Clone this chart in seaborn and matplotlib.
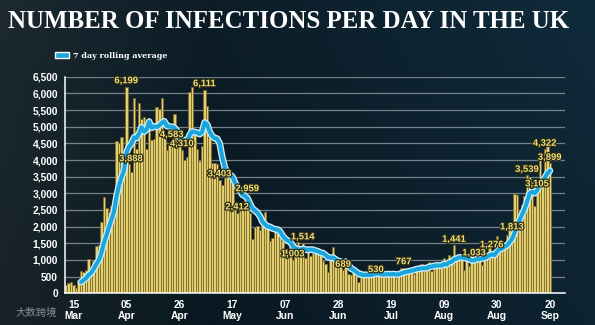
import numpy as np
import pandas as pd
import matplotlib
matplotlib.use("Agg")
import matplotlib.pyplot as plt
import matplotlib.patheffects as pe
from matplotlib.patches import Patch
import seaborn as sns

# ---------------- data ----------------
start_date = "2020-03-12"
mar_cases = [250, 300, 342, 251, 152, 407, 676, 643, 714, 1035, 665, 967, 1427, 1452,
             2129, 2885, 2546, 2433, 2619, 3009]
apr_cases = [4567, 4500, 4700, 3950, 6199, 3888, 3634, 5870, 4344, 5706, 5234, 5288, 4342,
             5252, 4605, 4618, 5599, 5525, 5850, 4676, 4301, 4451, 4583, 5386, 4913, 4463,
             4310, 3996, 4076, 6032]
may_cases = [6201, 4806, 4339, 3985, 4406, 6111, 5614, 4649, 3896, 3923, 3877, 3403, 3242,
             3446, 3560, 3451, 3534, 2684, 2412, 2472, 2615, 3287, 2959, 2405, 1625, 2004,
             2013, 1887, 2095, 2445, 1936]
jun_cases = [1570, 1653, 1871, 1805, 1650, 1557, 1326, 1205, 1387, 1003, 1266, 1541, 1425,
             1514, 1056, 1279, 1115, 1218, 1346, 1295, 1221, 958, 874, 653, 1118, 1380, 890,
             901, 815, 689]
jul_cases = [829, 576, 544, 624, 516, 352, 581, 630, 642, 512, 620, 650, 530, 538, 538, 542,
             587, 627, 626, 580, 445, 560, 769, 767, 743, 747, 685, 581, 763, 846, 880]
aug_cases = [771, 744, 938, 670, 892, 950, 871, 758, 1062, 816, 1148, 1009, 1441, 1040, 1012,
             1062, 713, 1089, 812, 1182, 1033, 1288, 1041, 853, 1184, 1048, 1522, 1276, 1108,
             1715, 1406]
sep_cases = [1295, 1508, 1735, 1940, 1813, 2988, 2948, 2460, 2659, 2919, 3539, 3497, 3330,
             2621, 3105, 3991, 3395, 4322, 4422, 3899]

tick_dates = ["2020-03-15", "2020-04-05", "2020-04-26", "2020-05-17", "2020-06-07",
              "2020-06-28", "2020-07-19", "2020-08-09", "2020-08-30", "2020-09-20"]
tick_labels = ["15\nMar", "05\nApr", "26\nApr", "17\nMay", "07\nJun",
               "28\nJun", "19\nJul", "09\nAug", "30\nAug", "20\nSep"]
y_ticks = [0, 500, 1000, 1500, 2000, 2500, 3000, 3500, 4000, 4500, 5000, 5500, 6000, 6500]

label_dates = ["2020-04-05", "2020-04-06", "2020-04-23", "2020-04-27", "2020-05-06",
               "2020-05-12", "2020-05-19", "2020-05-23", "2020-06-10", "2020-06-14",
               "2020-06-30", "2020-07-13", "2020-07-24", "2020-08-13", "2020-08-21",
               "2020-08-28", "2020-09-05", "2020-09-11", "2020-09-15", "2020-09-18",
               "2020-09-20"]

title_text = "NUMBER OF INFECTIONS PER DAY IN THE UK"
legend_text = "7 day rolling average"
watermark_text = "大数跨境"

# ---------------- frame ----------------
cases = mar_cases + apr_cases + may_cases + jun_cases + jul_cases + aug_cases + sep_cases
dates = pd.date_range(start_date, periods=len(cases), freq="D")
df = pd.DataFrame({"date": dates, "cases": cases})
df["day"] = (df["date"] - df["date"].iloc[0]).dt.days
df["avg"] = df["cases"].rolling(7).mean()

def day_of(s):
    return (pd.Timestamp(s) - df["date"].iloc[0]).days

sns.set_theme(style="dark")
plt.rcParams["font.family"] = ["Liberation Sans", "DejaVu Sans"]

W, H = 595, 325
fig = plt.figure(figsize=(W / 100, H / 100), dpi=100)
fig.patch.set_facecolor("#0f1f28")

# background gradient (decoration)
bg = fig.add_axes([0, 0, 1, 1], zorder=-10)
yy, xx = np.mgrid[0:1:120j, 0:1:220j]
c_left = np.array([0x1c, 0x2a, 0x30]) / 255
c_mid = np.array([0x0c, 0x1d, 0x28]) / 255
c_right = np.array([0x10, 0x2b, 0x3b]) / 255
t = xx[..., None]
img = np.where(t < 0.35, c_left + (c_mid - c_left) * (t / 0.35),
               c_mid + (c_right - c_mid) * ((t - 0.35) / 0.65))
img = img * (1.0 - 0.18 * yy[..., None])
bg.imshow(img, aspect="auto", extent=[0, 1, 0, 1], origin="upper")
bg.axis("off")

# main axes: pixel mapping x = 66 + 2.52*day
ax = fig.add_axes([65 / W, (H - 293.3) / H, 500 / W, (293.3 - 76.7) / H])
ax.set_facecolor("none")

sns.barplot(data=df, x="day", y="cases", native_scale=True, errorbar=None,
            color="#e3cf70", saturation=1, width=1.0, edgecolor="#7c6a2a",
            linewidth=0.55, ax=ax, zorder=2)

sns.lineplot(data=df, x="day", y="avg", ax=ax, color="#1aa6dd", lw=3.0, zorder=4,
             path_effects=[pe.Stroke(linewidth=4.9, foreground="#cfeefa"), pe.Normal()])

left = -1 / 2.52
ax.set_xlim(left, left + 500 / 2.52)
ax.set_ylim(0, 6500)

ax.set_xticks([day_of(d) for d in tick_dates])
ax.set_xticklabels(tick_labels)
ax.set_yticks(y_ticks)
ax.set_yticklabels([f"{v:,}" for v in y_ticks])
ax.set_xlabel("")
ax.set_ylabel("")

ax.tick_params(axis="both", colors="white", labelcolor="white", length=3, width=1,
               labelsize=7.4, pad=2)
for lab in ax.get_xticklabels() + ax.get_yticklabels():
    lab.set_fontweight("bold")
for lab in ax.get_xticklabels():
    lab.set_linespacing(1.15)

ax.yaxis.grid(True, color="#8e9aa1", lw=0.9, alpha=0.8)
ax.xaxis.grid(False)
ax.set_axisbelow(True)
for s in ["top", "right"]:
    ax.spines[s].set_visible(False)
for s in ["left", "bottom"]:
    ax.spines[s].set_visible(True)
    ax.spines[s].set_color("white")
    ax.spines[s].set_linewidth(1.1)
    ax.spines[s].set_zorder(5)

# value labels
special = {"2020-04-06": (2, 5)}
lab_fx = [pe.withStroke(linewidth=1.8, foreground="#2b2a12")]
for d in label_dates:
    i = day_of(d)
    v = df["cases"].iloc[i]
    dx, dy = special.get(d, (0, 6))
    ax.annotate(f"{v:,}", xy=(i, v), xytext=(dx * 0.72, dy * 0.72),
                textcoords="offset points", ha="center", va="center",
                color="#efe07c", fontsize=6.8, fontweight="bold", zorder=6,
                path_effects=lab_fx)

# title, fitted to width
title = fig.text(8 / W, 1 - 21 / H, title_text, color="white", fontweight="bold",
                 family=["Liberation Serif", "DejaVu Serif"], fontsize=20,
                 ha="left", va="center")
fig.canvas.draw()
wpx = title.get_window_extent().width
title.set_fontsize(20 * 560 / wpx)

# legend
fig.legend(handles=[Patch(facecolor="#1aa6dd", edgecolor="white", linewidth=1.0)],
           labels=[legend_text], loc="center left",
           bbox_to_anchor=(55 / W, 1 - 56 / H), frameon=False, handlelength=1.7,
           handleheight=0.85, handletextpad=0.5, borderpad=0, borderaxespad=0,
           prop={"family": "DejaVu Serif", "weight": "bold", "size": 5.8},
           labelcolor="white")

# watermark
fig.text(16 / W, 1 - 313 / H, watermark_text, family=["Noto Sans CJK SC", "DejaVu Sans"],
         color="white", alpha=0.5, fontsize=7.5, ha="left", va="center")

fig.savefig("out.png", dpi=100, facecolor=fig.get_facecolor())
